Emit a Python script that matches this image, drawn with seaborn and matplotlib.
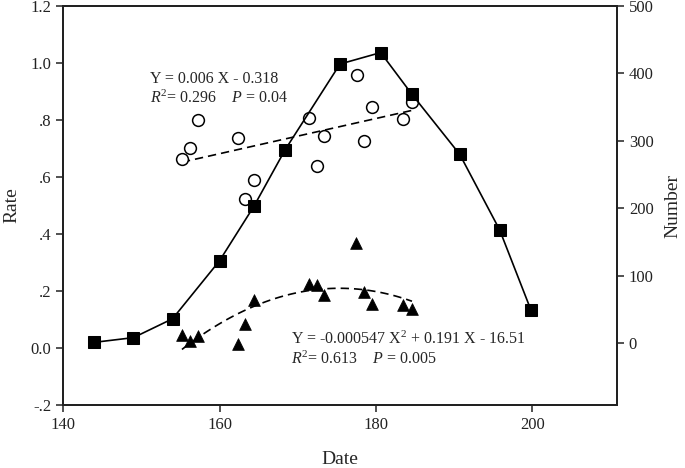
import numpy as np
import pandas as pd
import seaborn as sns
import matplotlib
matplotlib.use('Agg')
import matplotlib.pyplot as plt

# Number (right axis), filled squares joined by a line
date_num = [144, 149, 154, 160, 164.4, 168.4, 175.4, 180.6, 184.6, 190.7, 195.8, 199.8]
number = [1, 8, 36, 122, 203, 287, 414, 431, 369, 280, 168, 49]

# Rate (left axis), open circles, linear fit
date_circ = [155.2, 156.2, 157.2, 162.3, 163.3, 164.4, 171.5, 172.5, 173.4,
             177.6, 178.5, 179.5, 183.5, 184.6]
rate_circ = [0.662, 0.703, 0.800, 0.738, 0.524, 0.590, 0.808, 0.640, 0.745,
             0.958, 0.726, 0.847, 0.805, 0.864]

# Rate (left axis), filled triangles, quadratic fit
date_tri = [155.2, 156.2, 157.2, 162.3, 163.3, 164.4, 171.4, 172.5, 173.4,
            177.5, 178.5, 179.5, 183.5, 184.6]
rate_tri = [0.046, 0.025, 0.043, 0.014, 0.083, 0.167, 0.223, 0.220, 0.185,
            0.367, 0.198, 0.153, 0.150, 0.136]

left_ticks = [-0.2, 0.0, 0.2, 0.4, 0.6, 0.8, 1.0, 1.2]
left_labels = ['-.2', '0.0', '.2', '.4', '.6', '.8', '1.0', '1.2']
right_ticks = [0, 100, 200, 300, 400, 500]
x_ticks = [140, 160, 180, 200]

sns.set_style('ticks')
plt.rcParams['font.family'] = ['Liberation Serif', 'DejaVu Serif']
plt.rcParams['mathtext.fontset'] = 'custom'
plt.rcParams['mathtext.rm'] = 'Liberation Serif'
plt.rcParams['mathtext.it'] = 'Liberation Serif:italic'

circ = pd.DataFrame({'date': date_circ, 'rate': rate_circ})
tri = pd.DataFrame({'date': date_tri, 'rate': rate_tri})
num = pd.DataFrame({'date': date_num, 'number': number})

fig, ax = plt.subplots(figsize=(6.85, 4.68), dpi=100)
fig.subplots_adjust(left=0.092, right=0.9007, bottom=0.1346, top=0.987)

# fit lines
sns.regplot(data=circ, x='date', y='rate', ax=ax, ci=None, scatter=False,
            color='black', line_kws={'ls': (0, (5, 3)), 'lw': 1.2})
sns.regplot(data=tri, x='date', y='rate', ax=ax, ci=None, scatter=False, order=2,
            color='black', line_kws={'ls': (0, (5, 3)), 'lw': 1.2})

sns.scatterplot(data=circ, x='date', y='rate', ax=ax, marker='o', s=72,
                facecolor='white', edgecolor='black', linewidth=1.1, zorder=3)
sns.scatterplot(data=tri, x='date', y='rate', ax=ax, marker='^', s=72,
                color='black', edgecolor='black', linewidth=0.5, zorder=3)

ax.set_xlim(140, 210.8)
ax.set_ylim(-0.2, 1.2)
ax.set_xticks(x_ticks)
ax.set_yticks(left_ticks)
ax.set_yticklabels(left_labels)
ax.set_xlabel('Date', fontsize=14, labelpad=13)
ax.set_ylabel('Rate', fontsize=14, labelpad=7)

ax.text(151.1, 0.944, 'Y = 0.006 X - 0.318', fontsize=11.5, va='center')
ax.text(151.1, 0.877, '$R^2$= 0.296    $P$ = 0.04', fontsize=11.5, va='center')
ax.text(169.2, 0.031, 'Y = -0.000547 X$^\\mathregular{2}$ + 0.191 X - 16.51',
        fontsize=11.5, va='center')
ax.text(169.2, -0.040, '$R^2$= 0.613    $P$ = 0.005', fontsize=11.5, va='center')

ax2 = ax.twinx()
sns.lineplot(data=num, x='date', y='number', ax=ax2, color='black', lw=1.2,
             marker='s', markersize=8.5, markeredgecolor='black')
ax2.set_ylim(-92, 500)
ax2.set_yticks(right_ticks)
ax2.set_ylabel('Number', fontsize=14, labelpad=8)
ax2.set_xlim(140, 210.8)

for a in (ax, ax2):
    for sp in a.spines.values():
        sp.set_visible(True)
        sp.set_linewidth(1.4)
        sp.set_color('#222222')
    a.tick_params(direction='out', length=5, width=1.1, labelsize=12, colors='#222222')

fig.savefig('out.png', dpi=100)
